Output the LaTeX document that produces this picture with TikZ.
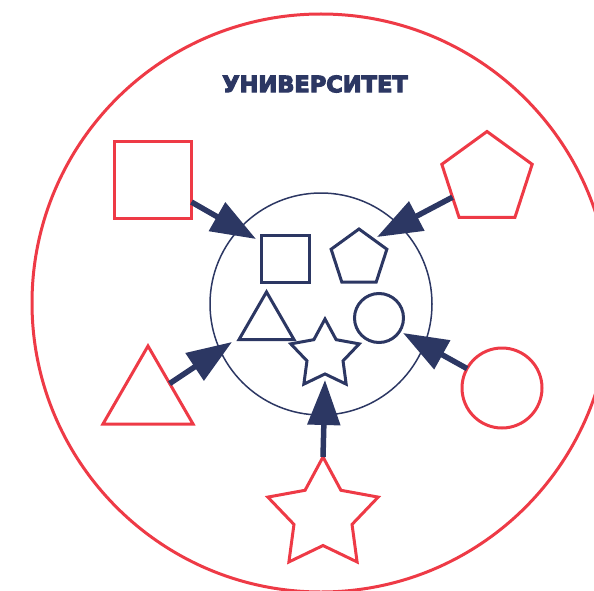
\documentclass[tikz,border=0pt]{standalone}
\usepackage{fontspec}
\newfontfamily\titlefont{DejaVu Sans Bold}
\usetikzlibrary{shapes.geometric,arrows.meta}
\definecolor{uired}{HTML}{EE3A46}
\definecolor{uinavy}{HTML}{2C3763}
\newcommand\heavytext[1]{\special{pdf:literal direct 2 Tr 1.1 w 0.173 0.216 0.388 RG}#1\special{pdf:literal direct 0 Tr}}
\begin{document}
\begin{tikzpicture}[x=1pt,y=-1pt,
  redshape/.style={draw=uired,line width=3pt,inner sep=0pt,outer sep=0pt},
  navyshape/.style={draw=uinavy,line width=3pt,inner sep=0pt,outer sep=0pt},
  arr/.style={draw=uinavy,fill=uinavy,line width=5.5pt,-{Triangle[length=45pt,width=32pt]}},
  pent/.style={regular polygon,regular polygon sides=5},
  tri/.style={regular polygon,regular polygon sides=3},
  starshape/.style={star,star points=5,star point ratio=1.9},
]
\useasboundingbox (0,0) rectangle (594,591);
\begin{scope}
  \clip (0,0) rectangle (594,591);
  \node[circle,draw=uired,line width=3pt,minimum size=578pt,inner sep=0pt] (univ) at (321,303) {};
\end{scope}
\node[text=uinavy,font=\titlefont\fontsize{22.5}{23}\selectfont] (title) at (315,84) {\heavytext{УНИВЕРСИТЕТ}};
\node[circle,draw=uinavy,line width=1.5pt,minimum size=222pt,inner sep=0pt] (campus) at (321,304) {};
% inner shapes
\node[navyshape,rectangle,minimum width=48pt,minimum height=47pt] (isq) at (285,258.5) {};
\node[navyshape,pent,minimum size=58.6pt] (ipent) at (359,258.3) {};
\node[navyshape,tri,minimum size=63.5pt] (itri) at (266.5,323.7) {};
\node[navyshape,circle,minimum size=49pt] (icirc) at (379,318) {};
\node[navyshape,starshape,minimum size=72pt] (istar) at (325,355) {};
% outer shapes
\node[redshape,rectangle,minimum width=77pt,minimum height=77pt] (rsq) at (153,180) {};
\node[redshape,pent,minimum size=95pt] (rpent) at (487,179) {};
\node[redshape,tri,minimum size=104pt] (rtri) at (148,398) {};
\node[redshape,circle,minimum size=80pt] (rcirc) at (502,388) {};
\node[redshape,starshape,minimum size=116pt] (rstar) at (323,515) {};
% arrow tips
\coordinate (tsq) at (256,239);
\coordinate (tpent) at (377,237);
\coordinate (ttri) at (232,342);
\coordinate (tcirc) at (403,333);
\coordinate (tstar) at (325,380);
\draw[arr] (rsq) -- (tsq);
\draw[arr] (rpent) -- (tpent);
\draw[arr] (rtri) -- (ttri);
\draw[arr] (rcirc) -- (tcirc);
\draw[arr] (rstar.north) -- (tstar);
\end{tikzpicture}
\end{document}
